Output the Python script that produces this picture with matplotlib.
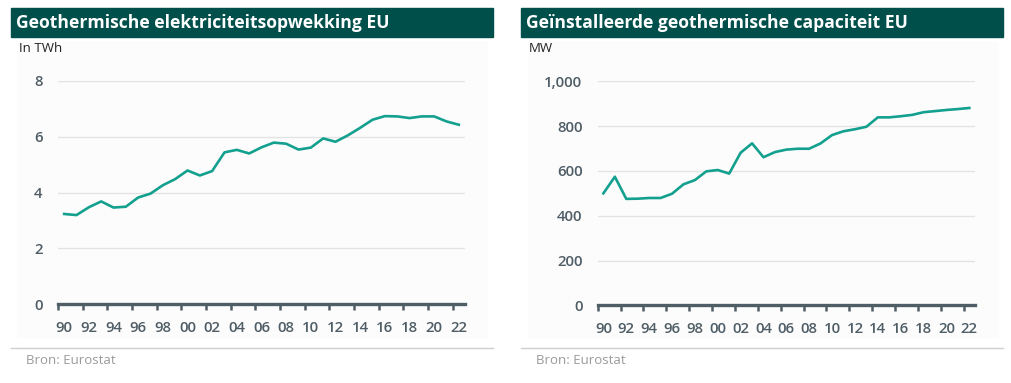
import numpy as np
import matplotlib.pyplot as plt
from matplotlib.patches import Rectangle
from matplotlib.lines import Line2D

plt.rcParams['font.family'] = ['Open Sans', 'DejaVu Sans']

#===# DATA #===#
years = list(range(1990, 2023))

twh = [3.23, 3.19, 3.47, 3.68, 3.46, 3.49, 3.82, 3.96, 4.26, 4.48, 4.79,
       4.61, 4.77, 5.44, 5.53, 5.40, 5.62, 5.79, 5.75, 5.54, 5.61, 5.94,
       5.82, 6.05, 6.32, 6.61, 6.74, 6.73, 6.67, 6.73, 6.73, 6.55, 6.43]

mw = [500, 574, 475, 476, 479, 479, 498, 540, 559, 598, 604, 588, 681,
      723, 661, 684, 695, 699, 699, 723, 760, 777, 786, 797, 839, 839,
      844, 850, 862, 867, 872, 876, 881]

titles = ['Geothermische elektriciteitsopwekking EU',
          'Geïnstalleerde geothermische capaciteit EU']
units = ['In TWh', 'MW']
yticks_left = [0, 2, 4, 6, 8]
yticks_right = [0, 200, 400, 600, 800, 1000]
source = 'Bron: Eurostat'

#===# STYLE #===#
W, H = 1011, 383
teal_dark = '#004f4b'
line_col = '#13a08f'
axis_col = '#4f5d66'
grid_col = '#e3e3e3'

fig = plt.figure(figsize=(W / 100, H / 100), dpi=100)


def fx(px):
    return px / W


def fy(py):
    return 1 - py / H


def panel(x0, x1, ax_left, ax_right, ax_bottom, ax_top, title, unit,
          values, yticks, ylabels):
    # faint panel background
    fig.patches.append(Rectangle((fx(x0 + 7), fy(337)), fx(x1 - x0 - 13), fy(42) - fy(337),
                                 transform=fig.transFigure, color='#fcfcfc', zorder=0))
    # title bar
    fig.patches.append(Rectangle((fx(x0), fy(37)), fx(x1 - x0), fy(8) - fy(37),
                                 transform=fig.transFigure, color=teal_dark, zorder=1))
    fig.text(fx(x0 + 5), fy(22.5), title, color='white', fontsize=12.6,
             fontweight='bold', va='center', ha='left')
    fig.text(fx(x0 + 8), fy(48), unit, color='#222222', fontsize=9.5,
             va='center', ha='left')
    # footer
    fig.lines.append(Line2D([fx(x0), fx(x1)], [fy(348), fy(348)],
                            transform=fig.transFigure, color='#cfcfcf', lw=1))
    fig.text(fx(x0 + 15), fy(360), source, color='#9a9a9a', fontsize=9.5,
             va='center', ha='left')

    ax = fig.add_axes([fx(ax_left), fy(ax_bottom), fx(ax_right - ax_left),
                       fy(ax_top) - fy(ax_bottom)])
    ax.set_zorder(5)
    ax.patch.set_alpha(0)
    ax.plot(years, values, color=line_col, lw=1.9, solid_joinstyle='round',
            clip_on=False, zorder=3)
    ax.set_xlim(1989.5, 2022.5)
    ax.set_ylim(yticks[0], yticks[-1])
    ax.set_yticks(yticks)
    ax.set_yticklabels(ylabels)
    ax.grid(axis='y', color=grid_col, lw=1)
    ax.set_axisbelow(True)
    for s in ['top', 'right', 'left']:
        ax.spines[s].set_visible(False)
    ax.spines['bottom'].set_color(axis_col)
    ax.spines['bottom'].set_linewidth(2.4)
    ax.spines['bottom'].set_zorder(4)

    ax.set_xticks(years[::2])
    ax.set_xticklabels(['%02d' % (y % 100) for y in years[::2]])
    ax.set_xticks(np.arange(1989.5, 2022, 2), minor=True)
    ax.tick_params(axis='x', which='major', length=0, pad=12,
                   labelsize=10.8, labelcolor=axis_col)
    ax.tick_params(axis='x', which='minor', length=4, width=1.8,
                   color=axis_col, direction='out')
    ax.tick_params(axis='y', length=0, pad=11, labelsize=10.8, labelcolor=axis_col)
    for lbl in ax.get_xticklabels() + ax.get_yticklabels():
        lbl.set_fontweight('semibold')
    return ax


panel(11, 493, 58, 465, 304, 81, titles[0], units[0], twh,
      yticks_left, [str(v) for v in yticks_left])
panel(521, 1003, 597.7, 975, 305.3, 81.3, titles[1], units[1], mw,
      yticks_right, ['{:,}'.format(v) for v in yticks_right])

fig.savefig('out.png', dpi=100, facecolor='white')
